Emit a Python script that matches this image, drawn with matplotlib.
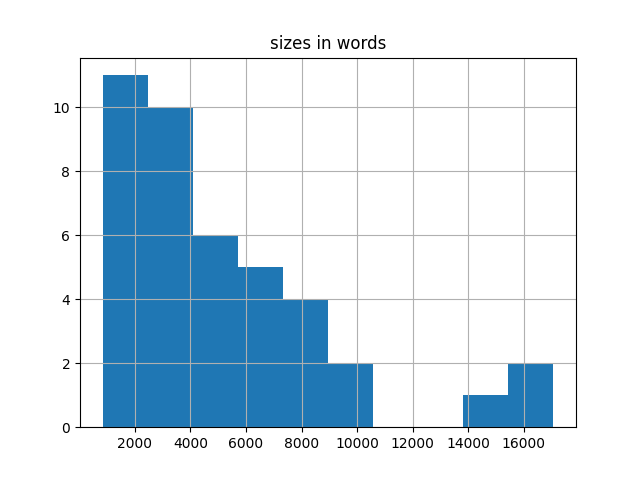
import numpy as np
import matplotlib
matplotlib.use('Agg')
import matplotlib.pyplot as plt

# histogram: 10 equal bins
lo, hi = 835, 17071
counts = [11, 10, 6, 5, 4, 2, 0, 0, 1, 2]

edges = np.linspace(lo, hi, len(counts) + 1)

fig, ax = plt.subplots(figsize=(6.4, 4.8), dpi=100)
ax.hist(edges[:-1], bins=edges, weights=counts, color='#1f77b4')
ax.grid(True)
ax.set_title('sizes in words')
fig.savefig('out.png')
